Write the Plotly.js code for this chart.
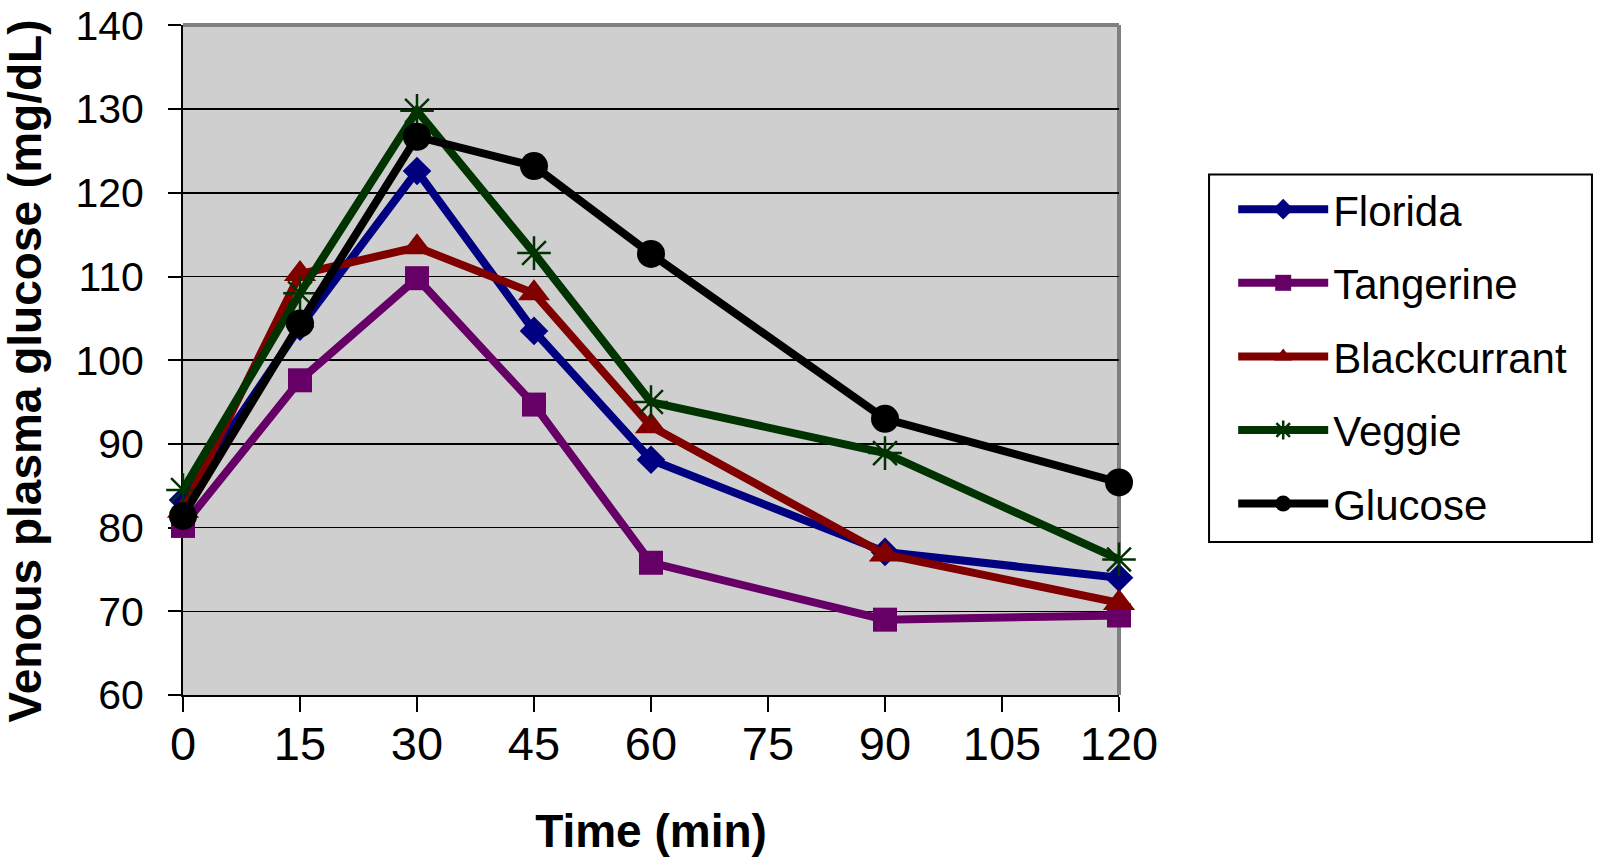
<!DOCTYPE html>
<html><head><meta charset="utf-8">
<script src="https://cdn.plot.ly/plotly-3.0.1.min.js"></script>
<style>html,body{margin:0;padding:0;background:#fff}#chart{width:1600px;height:864px}</style>
</head><body><div id="chart"></div>
<script>
const timeMin = [0, 15, 30, 45, 60, 90, 120];
const florida = [83.3, 104.0, 122.6, 103.5, 88.1, 77.1, 74.0];
const tangerine = [80.2, 97.6, 109.8, 94.7, 75.8, 69.0, 69.5];
const blackcurrant = [82.0, 110.3, 113.5, 108.0, 92.1, 76.8, 71.0];
const veggie = [84.5, 108.0, 129.8, 112.8, 95.0, 88.9, 76.2];
const glucose = [81.4, 104.4, 126.7, 123.2, 112.7, 93.0, 85.4];
const seriesNames = ['Florida', 'Tangerine', 'Blackcurrant', 'Veggie', 'Glucose'];
const xTicks = [0, 15, 30, 45, 60, 75, 90, 105, 120];
const yTicks = [60, 70, 80, 90, 100, 110, 120, 130, 140];
const xTitle = 'Time (min)';
const yTitle = 'Venous plasma glucose (mg/dL)';

const styles = [
  {color: '#000080', symbol: 'diamond', size: 22},
  {color: '#660066', symbol: 'square', size: 24},
  {color: '#800000', symbol: 'triangle-up', size: 28},
  {color: '#003300', symbol: 'asterisk-open', size: 28},
  {color: '#000000', symbol: 'circle', size: 28}
];
const values = [florida, tangerine, blackcurrant, veggie, glucose];

const traces = values.map((v, i) => {
  const s = styles[i];
  const m = {symbol: s.symbol, size: s.size, color: s.color};
  if (s.symbol === 'asterisk-open') m.line = {color: s.color, width: 2.5};
  return {
    x: timeMin, y: v, name: seriesNames[i], type: 'scatter', mode: 'lines+markers',
    line: {color: s.color, width: 8}, marker: m, cliponaxis: false,
    legendgroup: 'g' + i
  };
});

const titleFont = {family: 'Liberation Sans, Arial, sans-serif', size: 46, color: '#000', weight: 'bold'};
const layout = {
  width: 1600, height: 864,
  margin: {l: 183, r: 481, t: 25, b: 169},
  paper_bgcolor: '#ffffff', plot_bgcolor: '#d0cfd0',
  font: {family: 'Liberation Sans, Arial, sans-serif', color: '#000'},
  showlegend: true,
  xaxis: {
    range: [0, 120], tickvals: xTicks, ticktext: xTicks.map(String),
    showgrid: false, zeroline: false, showline: true, linecolor: '#000', linewidth: 2,
    ticks: 'outside', ticklen: 15, tickwidth: 2, tickcolor: '#000', layer: 'below traces',
    ticklabelstandoff: -8, ticklabeloverflow: 'allow',
    tickfont: {family: 'Liberation Sans, Arial, sans-serif', size: 47, color: '#000'},
    title: {text: xTitle, font: titleFont, standoff: 45}
  },
  yaxis: {
    range: [60, 140.05], tickvals: yTicks, ticktext: yTicks.map(String),
    showgrid: true, gridcolor: '#000', gridwidth: 1.5, zeroline: false,
    showline: true, linecolor: '#000', linewidth: 2, layer: 'below traces',
    ticks: 'outside', ticklen: 13, tickwidth: 2, tickcolor: '#000',
    ticklabelstandoff: 16, ticklabeloverflow: 'allow',
    tickfont: {family: 'Liberation Sans, Arial, sans-serif', size: 41, color: '#000'}
  },
  annotations: [
    {text: yTitle, xref: 'paper', yref: 'paper', x: -0.1683, y: 0.4836, xanchor: 'center', yanchor: 'middle',
     textangle: -90, showarrow: false, font: titleFont}
  ],
  shapes: [
    {type: 'line', xref: 'paper', yref: 'paper', x0: 0, x1: 1, y0: 1, y1: 1, line: {color: '#808080', width: 4}, layer: 'below'},
    {type: 'line', xref: 'paper', yref: 'paper', x0: 1, x1: 1, y0: 0, y1: 1, line: {color: '#808080', width: 4}, layer: 'below'},
    {type: 'rect', xref: 'paper', yref: 'paper', x0: 1.0962, x1: 1.5053, y0: 0.2284, y1: 0.7769,
     fillcolor: '#ffffff', line: {color: '#000', width: 2}, layer: 'above'}
  ],
  legend: {
    x: 1.122, xanchor: 'left', y: 0.7755, yanchor: 'top',
    bgcolor: 'rgba(0,0,0,0)', borderwidth: 0,
    font: {family: 'Liberation Sans, Arial, sans-serif', size: 42, color: '#000'},
    itemwidth: 90, tracegroupgap: 16, traceorder: 'grouped'
  }
};
Plotly.newPlot('chart', traces, layout, {displayModeBar: false, staticPlot: true});
</script></body></html>
